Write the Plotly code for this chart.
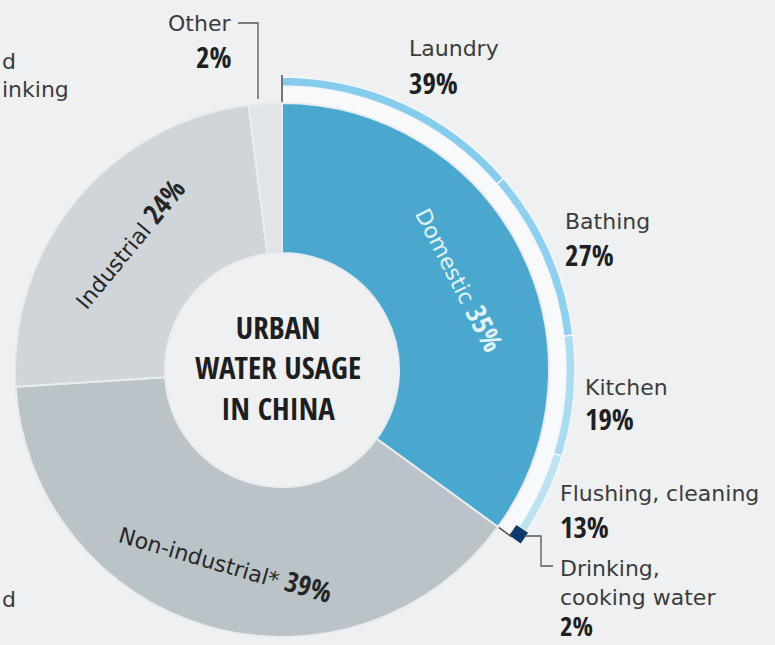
import math
import plotly.graph_objects as go

# ---------------- data ----------------
main_labels = ["Domestic", "Non-industrial*", "Industrial", "Other"]
main_values = [35, 39, 24, 2]
main_colors = ["#4aa8cf", "#b9c3c8", "#cfd5d9", "#e2e5e8"]

dom_labels = ["Laundry", "Bathing", "Kitchen", "Flushing, cleaning", "Drinking, cooking water"]
dom_display = ["Laundry", "Bathing", "Kitchen", "Flushing, cleaning", "Drinking,<br>cooking water"]
dom_values = [39, 27, 19, 13, 2]
dom_colors = ["#86ccec", "#8fd0ee", "#a9dbf1", "#bde3f3", "#0d3a6d"]

center_title = "URBAN<br>WATER USAGE<br>IN CHINA"
left_fragments = ["d", "inking", "d"]

# ---------------- layout constants ----------------
W, H = 775, 645
BG = "#eef0f2"
CX, CY = 282, 370          # donut centre (px)
R_OUT, R_HOLE = 267, 117   # main donut radii (px)
BAND_IN, BAND_OUT = 267, 284
RING_IN, RING_OUT = 284, 293
R2 = 297                   # radial extent of the outer-ring polar (px)
SECTOR = [-40, 95]

LABEL_FONT = "DejaVu Sans"
NUM_FONT = "Open Sans Condensed, Roboto Condensed, sans-serif"
TXT = "#3c3c3c"
NUM = "#202020"


def px(x):
    return x / W


def py(y):
    return 1 - y / H


def sector_bbox(s0, s1):
    pts = [(0.0, 0.0)]
    for a in (s0, s1):
        pts.append((math.cos(math.radians(a)), math.sin(math.radians(a))))
    k = math.ceil(s0 / 90.0)
    while k * 90 <= s1:
        a = k * 90
        pts.append((round(math.cos(math.radians(a))), round(math.sin(math.radians(a)))))
        k += 1
    xs = [p[0] for p in pts]
    ys = [p[1] for p in pts]
    return min(xs), min(ys), max(xs), max(ys)


def num_span(t, size):
    return ("<span style=\"font-family:'Open Sans Condensed','Roboto Condensed';"
            f"font-weight:bold;font-size:{size}px\">{t}</span>")


fig = go.Figure()

# ---- main donut ----
fig.add_trace(go.Pie(
    labels=main_labels, values=main_values, hole=R_HOLE / R_OUT,
    sort=False, direction="clockwise", rotation=0,
    marker=dict(colors=main_colors, line=dict(color="#e8ecef", width=2)),
    textinfo="none", showlegend=False,
    domain=dict(x=[px(CX - R_OUT), px(CX + R_OUT)], y=[py(CY + R_OUT), py(CY - R_OUT)]),
))

# ---- outer ring breakdown of domestic use (polar sector) ----
total = sum(main_values)
dom_span = 360.0 * main_values[0] / total
sub_total = sum(dom_values)
widths = [dom_span * v / sub_total for v in dom_values]
centers = []
acc = 0.0
for w_ in widths:
    centers.append(acc + w_ / 2)
    acc += w_

# white band behind ring
fig.add_trace(go.Barpolar(
    r=[BAND_OUT - BAND_IN], base=[BAND_IN], theta=[dom_span / 2], width=[dom_span],
    marker=dict(color="#f8f9fa", line=dict(width=0)), subplot="polar", showlegend=False,
    hoverinfo="skip",
))
# ring segments (all but the tiny last one)
fig.add_trace(go.Barpolar(
    r=[RING_OUT - RING_IN] * (len(dom_values) - 1), base=[RING_IN] * (len(dom_values) - 1),
    theta=centers[:-1], width=widths[:-1], text=dom_labels[:-1],
    marker=dict(color=dom_colors[:-1], line=dict(color="#f4f6f8", width=1.5)),
    subplot="polar", showlegend=False, hoverinfo="text",
))
# start / end tick marks
fig.add_trace(go.Scatterpolar(
    r=[R_OUT, RING_OUT + 2], theta=[0, 0], mode="lines",
    line=dict(color="#4a4a4a", width=1.5), subplot="polar", showlegend=False, hoverinfo="skip",
))
fig.add_trace(go.Scatterpolar(
    r=[R_OUT, RING_IN], theta=[dom_span, dom_span], mode="lines",
    line=dict(color="#4a4a4a", width=1.5), subplot="polar", showlegend=False, hoverinfo="skip",
))
# drinking water square
fig.add_trace(go.Barpolar(
    r=[14], base=[281], theta=[centers[-1]], width=[widths[-1]], text=[dom_labels[-1]],
    marker=dict(color=dom_colors[-1], line=dict(width=0)),
    subplot="polar", showlegend=False, hoverinfo="text",
))

bx0, by0, bx1, by1 = sector_bbox(*SECTOR)
pol_x = [px(CX + R2 * bx0), px(CX + R2 * bx1)]
pol_y = [py(CY - R2 * by0), py(CY - R2 * by1)]

# ---------------- annotations ----------------
anns = []


def ann(text, x, y, size, color, font=LABEL_FONT, xanchor="left", yanchor="middle", angle=0, align="left"):
    anns.append(dict(text=text, x=px(x), y=py(y), xref="paper", yref="paper", showarrow=False,
                     xanchor=xanchor, yanchor=yanchor, textangle=angle, align=align,
                     font=dict(family=font, size=size, color=color)))


# slice labels, tangential, at mid angle of each slice
acc = 0.0
slice_colors = ["#e2f3fb", "#262626", "#262626", None]
for lab, val, col in zip(main_labels, main_values, slice_colors):
    a0 = acc
    acc += 360.0 * val / total
    if col is None:
        continue
    mid = (a0 + acc) / 2
    rr = 200
    x = CX + rr * math.sin(math.radians(mid))
    y = CY - rr * math.cos(math.radians(mid))
    ang = mid
    if 90 < ang < 270:
        ang -= 180
    if ang > 180:
        ang -= 360
    ann(f"{lab} " + num_span(f"{val}%", 28), x, y, 22, col, xanchor="center", angle=ang)

# centre title
ann(f"<b>{center_title}</b>", 278, 367, 31, "#1e1e1e", font=NUM_FONT, xanchor="center", align="center")

# ring category labels (name line + percentage line)
label_pos = [(407, 49, 82), (563, 221, 254), (583, 387, 418), (558, 493, 526), (558, 583, None)]
for name, val, (lx, ny, vy) in zip(dom_display, dom_values, label_pos):
    ann(name, lx, ny, 22, TXT)
    if vy is None:
        ann(f"<b>{val}%</b>", lx, 646, 27, NUM, font=NUM_FONT, yanchor="bottom")
    else:
        ann(f"<b>{val}%</b>", lx, vy, 29, NUM, font=NUM_FONT)

# "Other" label
ann(main_labels[3], 233, 23, 22, TXT, xanchor="right")
ann(f"<b>{main_values[3]}%</b>", 233, 56, 29, NUM, font=NUM_FONT, xanchor="right")

# cut-off fragments at the left edge
for t, yy in zip(left_fragments, [61, 89, 599]):
    ann(t, 0, yy, 22, TXT, xanchor="left")

shapes = [
    dict(type="path", xref="paper", yref="paper",
         path=f"M {px(238)},{py(23)} L {px(258)},{py(23)} L {px(258)},{py(99)}",
         line=dict(color="#555555", width=1.3)),
    dict(type="path", xref="paper", yref="paper",
         path=f"M {px(524)},{py(536)} L {px(541)},{py(536)} L {px(541)},{py(566)} L {px(553)},{py(566)}",
         line=dict(color="#555555", width=1.3)),
]

fig.update_layout(
    width=W, height=H, margin=dict(l=0, r=0, t=0, b=0),
    paper_bgcolor=BG, plot_bgcolor=BG, showlegend=False,
    polar=dict(
        domain=dict(x=pol_x, y=pol_y), sector=SECTOR, hole=0,
        bgcolor="rgba(0,0,0,0)",
        radialaxis=dict(range=[0, R2], visible=False),
        angularaxis=dict(rotation=90, direction="clockwise", visible=False),
    ),
    annotations=anns, shapes=shapes,
)

fig.write_html("out.html")
